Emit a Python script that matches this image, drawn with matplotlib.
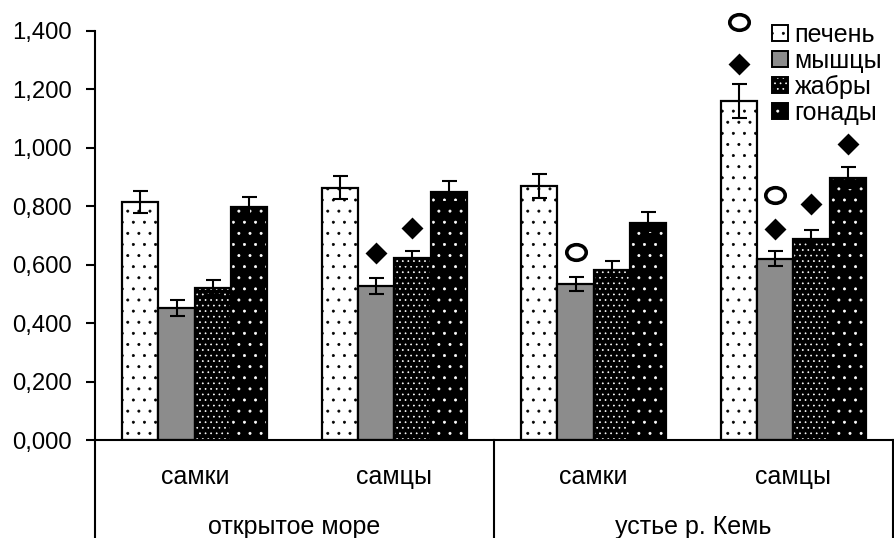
import matplotlib
matplotlib.use("Agg")
import matplotlib.pyplot as plt
from matplotlib.patches import Patch
from matplotlib.path import Path
from matplotlib.transforms import Affine2D
from matplotlib.ticker import FuncFormatter

# categories
sites = ["открытое море", "устье р. Кемь"]
sexes = ["самки", "самцы", "самки", "самцы"]
tissues = ["печень", "мышцы", "жабры", "гонады"]

# mean values per group (rows) and tissue (columns)
means = [
    [0.816, 0.453, 0.521, 0.796],
    [0.864, 0.528, 0.624, 0.850],
    [0.871, 0.535, 0.583, 0.744],
    [1.159, 0.621, 0.689, 0.898],
]
errors = [
    [0.038, 0.027, 0.025, 0.037],
    [0.038, 0.027, 0.024, 0.037],
    [0.041, 0.024, 0.031, 0.038],
    [0.058, 0.027, 0.031, 0.037],
]

# significance marks: (group, tissue, y)
diamond_marks = [(1, 1, 0.641), (1, 2, 0.727), (3, 0, 1.286),
                 (3, 1, 0.723), (3, 2, 0.809), (3, 3, 1.012)]
circle_marks = [(2, 1, 0.645), (3, 1, 0.840), (3, 0, 1.430)]

# fill styles: face, dot colour, hatch
styles = [
    ("white", "black", "..."),
    ("#8c8c8c", "#8c8c8c", None),
    ("black", "white", "......"),
    ("black", "white", "..."),
]

plt.rcParams["font.family"] = "Liberation Sans"
plt.rcParams["hatch.linewidth"] = 0.25

fig = plt.figure(figsize=(4.47, 2.69), dpi=200)
ax = fig.add_axes([95 / 894, 98 / 538, 798 / 894, 409 / 538])

w = 1 / 5.5
for i, t in enumerate(tissues):
    face, dots, hatch = styles[i]
    xs = [g + (i - 1.5) * w for g in range(len(sexes))]
    ys = [m[i] for m in means]
    es = [e[i] for e in errors]
    ax.bar(xs, ys, w, facecolor=face, edgecolor=dots, hatch=hatch, linewidth=0)
    ax.bar(xs, ys, w, fill=False, edgecolor="black", linewidth=0.8)
    ax.errorbar(xs, ys, yerr=es, fmt="none", ecolor="black",
                elinewidth=0.75, capsize=2.7, capthick=0.75)

ellipse = Path.unit_circle().transformed(Affine2D().scale(1.25, 1.0))
for g, i, y in diamond_marks:
    ax.plot(g + (i - 1.5) * w, y, marker="D", markersize=4.4,
            color="black", clip_on=False)
for g, i, y in circle_marks:
    ax.plot(g + (i - 1.5) * w, y, marker=ellipse, markersize=7.0,
            markerfacecolor="white", markeredgecolor="black",
            markeredgewidth=1.3, linestyle="none", clip_on=False)

ax.set_xlim(-0.5, len(sexes) - 0.5)
ax.set_ylim(0, 1.4)
ax.set_yticks([0, 0.2, 0.4, 0.6, 0.8, 1.0, 1.2, 1.4])
ax.yaxis.set_major_formatter(FuncFormatter(lambda v, p: f"{v:.3f}".replace(".", ",")))
ax.tick_params(axis="y", length=3.2, width=0.75, pad=5.2, labelsize=8.6)
ax.set_xticks([])
for s in ["top", "right"]:
    ax.spines[s].set_visible(False)
ax.spines["left"].set_linewidth(0.75)
ax.spines["bottom"].set_linewidth(0.75)

# two-level category table under the axis
trans = ax.get_xaxis_transform()
for x in [-0.5, 1.5, 3.5]:
    ax.plot([x, x], [0, -0.3], color="black", linewidth=0.75,
            transform=trans, clip_on=False)
for g, s in enumerate(sexes):
    ax.text(g, -0.09, s, transform=trans, ha="center", va="center", fontsize=9)
for k, s in enumerate(sites):
    ax.text(2 * k + 0.5, -0.213, s, transform=trans, ha="center", va="center", fontsize=9)

handles = []
for face, dots, hatch in styles:
    handles.append((Patch(facecolor=face, edgecolor=dots, hatch=hatch, linewidth=0),
                    Patch(fill=False, edgecolor="black", linewidth=0.7)))
fig.legend(handles, tissues, loc="upper left", bbox_to_anchor=(772 / 894, 1 - 23 / 538),
           frameon=False, fontsize=9, handlelength=0.62, handleheight=0.62,
           handletextpad=0.28, labelspacing=0.08, borderpad=0, borderaxespad=0)

fig.savefig("out.png", dpi=200)
